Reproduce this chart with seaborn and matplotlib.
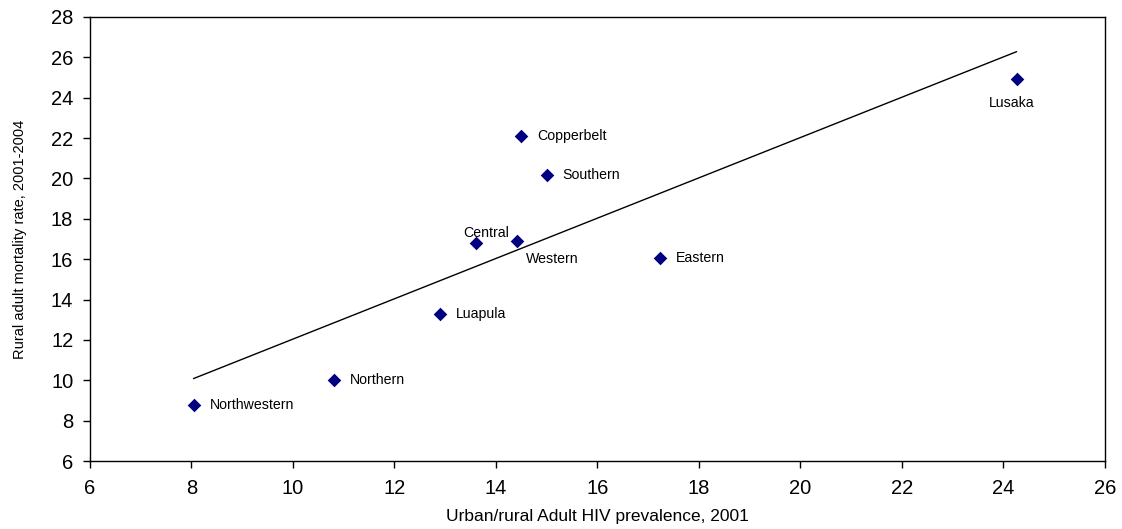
import numpy as np
import pandas as pd
import matplotlib
matplotlib.use('Agg')
import matplotlib.pyplot as plt
import seaborn as sns

# Provinces: urban/rural HIV prevalence vs rural adult mortality
provinces = ['Northwestern', 'Northern', 'Luapula', 'Central', 'Western',
             'Copperbelt', 'Southern', 'Eastern', 'Lusaka']
hiv_prev = [8.04, 10.8, 12.9, 13.6, 14.42, 14.5, 15.0, 17.23, 24.26]
mortality = [8.8, 10.0, 13.3, 16.8, 16.9, 22.1, 20.17, 16.07, 24.93]

x_ticks = list(range(6, 27, 2))
y_ticks = list(range(6, 29, 2))

df = pd.DataFrame({'province': provinces, 'hiv': hiv_prev, 'mort': mortality})

sns.set_style('white')
plt.rcParams['font.family'] = ['Liberation Sans', 'DejaVu Sans']
plt.rcParams['text.color'] = 'black'
plt.rcParams['axes.labelcolor'] = 'black'
plt.rcParams['xtick.color'] = 'black'
plt.rcParams['ytick.color'] = 'black'

fig = plt.figure(figsize=(11.22, 5.29), dpi=100)
ax = fig.add_axes([0.0802, 0.1285, 0.9046, 0.8394])

# trend line (OLS fit over data range)
sns.regplot(data=df, x='hiv', y='mort', ax=ax, scatter=False, ci=None,
            truncate=True, line_kws={'color': 'black', 'linewidth': 1.0})

sns.scatterplot(data=df, x='hiv', y='mort', ax=ax, marker='D', s=48,
                color='#000080', edgecolor='#000080', linewidth=0, zorder=3)

# label offsets in pixels (dx, dy, ha, va)
offsets = {
    'Northwestern': (16, 0, 'left', 'center'),
    'Northern': (16, 0, 'left', 'center'),
    'Luapula': (16, 0, 'left', 'center'),
    'Central': (-12, 10, 'left', 'center'),
    'Western': (9, -18, 'left', 'center'),
    'Copperbelt': (16, 0, 'left', 'center'),
    'Southern': (16, 0, 'left', 'center'),
    'Eastern': (16, 0, 'left', 'center'),
    'Lusaka': (-5, -24, 'center', 'center'),
}
for name, xv, yv in zip(provinces, hiv_prev, mortality):
    dx, dy, ha, va = offsets[name]
    ax.annotate(name, (xv, yv), xytext=(dx, dy), textcoords='offset pixels',
                ha=ha, va=va, fontsize=10.2, color='black')

ax.set_xlim(6, 26)
ax.set_ylim(6, 28)
ax.set_xticks(x_ticks)
ax.set_yticks(y_ticks)
ax.tick_params(axis='both', labelsize=14.5, length=5, width=1, direction='out',
               color='black', labelcolor='black', bottom=True, left=True)
ax.tick_params(axis='x', pad=8)
ax.tick_params(axis='y', pad=7)

for sp in ax.spines.values():
    sp.set_color('black')
    sp.set_linewidth(1.0)

ax.set_xlabel('Urban/rural Adult HIV prevalence, 2001', fontsize=12.5, labelpad=8)
ax.set_ylabel('Rural adult mortality rate, 2001-2004', fontsize=10.5, labelpad=17)

fig.savefig('out.png', dpi=100)
